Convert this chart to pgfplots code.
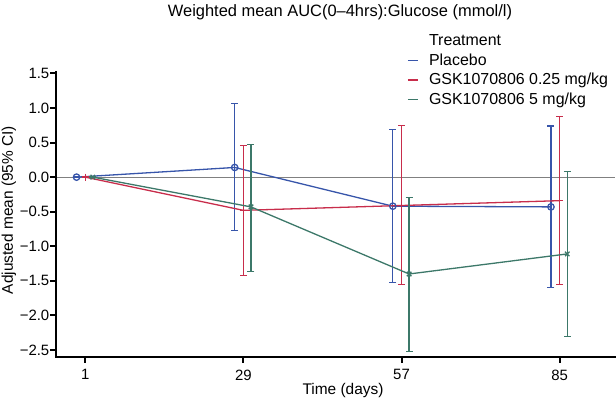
\documentclass[border=0pt]{standalone}
\usepackage{pgfplots}
\pgfplotsset{compat=1.18}
\usepackage{fontspec}
\setmainfont{Liberation Sans}
\definecolor{cblue}{RGB}{55,85,170}
\definecolor{cred}{RGB}{200,45,75}
\definecolor{cgreen}{RGB}{60,120,105}
\pgfplotstableread{
x y ep em
-0.055 0.00 0 0
0.945 0.14 0.92 0.91
1.945 -0.42 1.105 1.10
2.945 -0.43 1.17 1.17
}\placebo
\pgfplotstableread{
x y ep em
0 0.00 0 0
1 -0.48 0.935 0.94
2 -0.41 1.16 1.14
3 -0.34 1.22 1.21
}\lowdose
\pgfplotstableread{
x y ep em
0.048 0.00 0 0
1.048 -0.43 0.90 0.93
2.048 -1.40 1.11 1.12
3.048 -1.11 1.19 1.19
}\highdose
\begin{document}
\begin{tikzpicture}
\useasboundingbox (0,0) rectangle (616bp,400bp);
\begin{axis}[
  scale only axis,
  width=559bp, height=285bp,
  at={(56bp,43bp)}, anchor=south west,
  xmin=-0.185, xmax=3.35,
  ymin=-2.6, ymax=1.52,
  axis x line*=bottom, axis y line*=left,
  axis line style={draw=none},
  xtick={0,1,2,3}, xticklabels={1,29,57,85},
  ytick={-2.5,-2,-1.5,-1,-0.5,0,0.5,1,1.5},
  yticklabels={−2.5,−2.0,−1.5,−1.0,−0.5,0.0,0.5,1.0,1.5},
  tick align=outside,
  major tick length=5.5bp,
  major tick style={line width=2bp, black},
  ticklabel style={font=\fontsize{15}{18}\selectfont},
  yticklabel style={inner sep=1bp},
  xticklabel style={inner sep=1bp, yshift=-6bp},
  legend image code/.code={\draw[#1, mark=none] (0bp,0bp) -- (10bp,0bp);},
  legend style={draw=none, fill=none, at={(0.628,1.137)}, anchor=north west,
    font=\fontsize{16}{19}\selectfont, inner sep=0pt, row sep=3.6bp, column sep=9bp,
    nodes={inner sep=1.5bp}},
  legend cell align=left,
  legend entries={Treatment, Placebo, GSK1070806 0.25 mg/kg, GSK1070806 5 mg/kg},
  clip=false,
]
\addlegendimage{empty legend}
\addplot[gray, line width=0.9bp, forget plot] coordinates {(-0.185,0) (3.35,0)};
\addplot[color=cblue, line width=1.3bp, mark=o, mark size=3.2bp,
  /pgfplots/error bars/y dir=both, /pgfplots/error bars/y explicit,
  /pgfplots/error bars/error bar style={color=cblue, line width=1.3bp},
  /pgfplots/error bars/error mark options={color=cblue, line width=1.3bp, mark size=3.5bp, rotate=90}]
  table[x=x, y=y, y error plus=ep, y error minus=em] {\placebo};
\addplot[color=cred, line width=1.3bp, mark=+, mark size=3.5bp,
  /pgfplots/error bars/y dir=both, /pgfplots/error bars/y explicit,
  /pgfplots/error bars/error bar style={color=cred, line width=1.3bp},
  /pgfplots/error bars/error mark options={color=cred, line width=1.3bp, mark size=3.5bp, rotate=90}]
  table[x=x, y=y, y error plus=ep, y error minus=em] {\lowdose};
\addplot[color=cgreen, line width=1.3bp, mark=x, mark size=3.2bp,
  /pgfplots/error bars/y dir=both, /pgfplots/error bars/y explicit,
  /pgfplots/error bars/error bar style={color=cgreen, line width=1.3bp},
  /pgfplots/error bars/error mark options={color=cgreen, line width=1.3bp, mark size=3.5bp, rotate=90}]
  table[x=x, y=y, y error plus=ep, y error minus=em] {\highdose};
\end{axis}
\draw[line width=2.8bp, black] (56bp,329bp) -- (56bp,43bp) -- (616bp,43bp);
\node[font=\fontsize{16.5}{19}\selectfont] at (340bp,388bp) {Weighted mean AUC(0–4hrs):Glucose (mmol/l)};
\node[font=\fontsize{15.5}{18}\selectfont] at (343bp,9bp) {Time (days)};
\node[font=\fontsize{15.5}{18}\selectfont, rotate=90] at (9bp,190bp) {Adjusted mean (95\% CI)};
\end{tikzpicture}
\end{document}
